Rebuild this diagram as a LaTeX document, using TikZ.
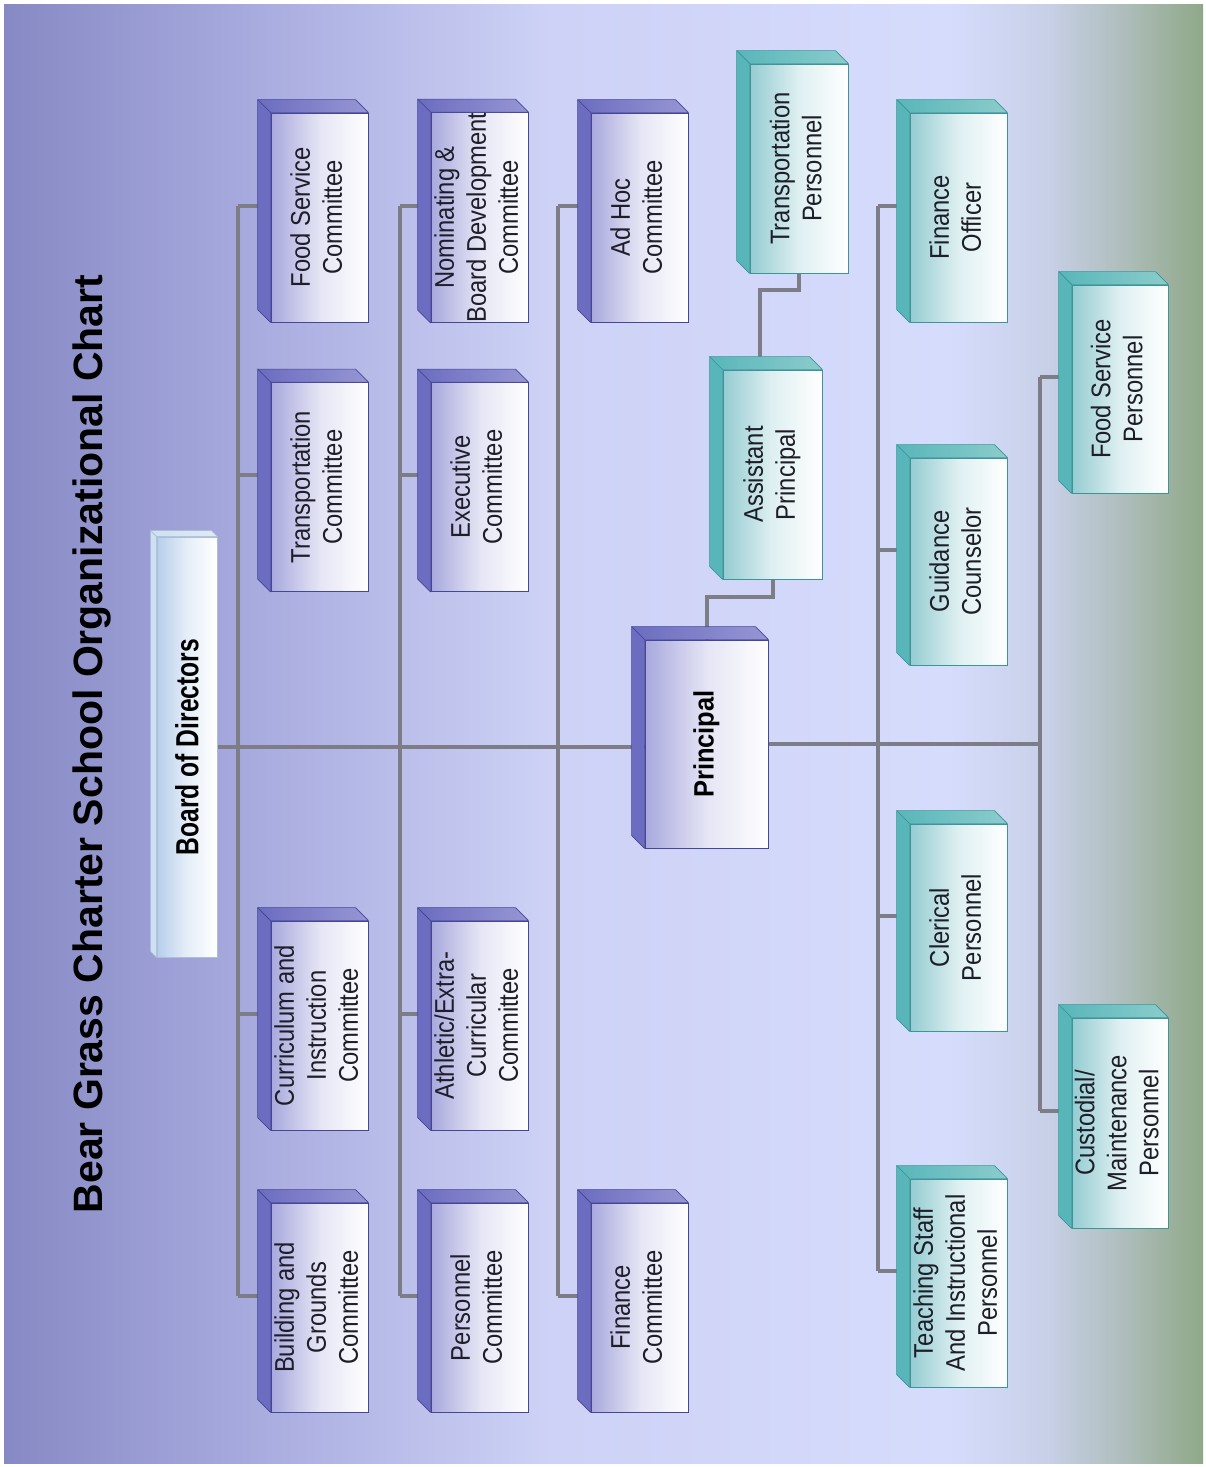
\documentclass[tikz,border=0pt]{standalone}
\usepackage{fontspec}
\setmainfont{Liberation Sans}
\usepackage{graphicx}
\usetikzlibrary{calc}
\definecolor{bgA}{RGB}{135,137,196}
\definecolor{bgB}{RGB}{168,171,222}
\definecolor{bgC}{RGB}{205,210,246}
\definecolor{bgD}{RGB}{214,220,252}
\definecolor{bgE}{RGB}{200,208,232}
\definecolor{bgF}{RGB}{172,188,184}
\definecolor{bgG}{RGB}{143,168,136}
\definecolor{connc}{RGB}{125,125,135}
\definecolor{txtc}{RGB}{30,30,40}
\definecolor{blueL}{RGB}{168,168,222}
\definecolor{blueS}{RGB}{108,108,192}
\definecolor{blueT}{RGB}{150,150,212}
\definecolor{blueD}{RGB}{70,70,150}
\definecolor{tealL}{RGB}{148,204,210}
\definecolor{tealS}{RGB}{88,182,186}
\definecolor{tealT}{RGB}{140,204,204}
\definecolor{tealD}{RGB}{60,150,152}
\definecolor{boardL}{RGB}{182,206,236}
\definecolor{boardS}{RGB}{205,225,242}
\definecolor{boardT}{RGB}{222,234,246}
\definecolor{boardD}{RGB}{175,190,215}
\pgfdeclarehorizontalshading{bgshade}{100bp}{color(0bp)=(bgA); color(25bp)=(bgA); color(35.4bp)=(bgB); color(47.8bp)=(bgC); color(64.4bp)=(bgD); color(68.5bp)=(bgE); color(71.9bp)=(bgF); color(75bp)=(bgG); color(100bp)=(bgG)}
\pgfdeclarelayer{back}
\pgfdeclarelayer{lines}
\pgfsetlayers{back,lines,main}
\newcommand\lbl[1]{\rotatebox{90}{\scalebox{0.88}[1]{\fontsize{27}{32}\selectfont\begin{tabular}{@{}c@{}}#1\end{tabular}}}}
\newcommand\blbl[3]{\rotatebox{90}{\scalebox{#2}[1]{\fontsize{#1}{#1}\selectfont\bfseries #3}}}
\newcommand\extrude[3]{%
 \shade[left color=#2S, right color=#2T, draw=#2D, line width=0.7pt, line join=round] (#1.north west) -- (#1.north east) -- ++(-#3,-#3) -- ($(#1.north west)+(-#3,-#3)$) -- cycle;
 \fill[#2S, draw=#2D, line width=0.7pt, line join=round] (#1.north west) -- (#1.south west) -- ++(-#3,-#3) -- ($(#1.north west)+(-#3,-#3)$) -- cycle;
}
\newcommand\stub[2]{\draw[conn] ($(#1.west)+(-13,-12)$) -- ++(-#2,0);}
\tikzset{
 conn/.style={draw=connc, line width=4pt},
 basebox/.style={rectangle, line width=0.8pt, right color=white, inner sep=0pt, minimum width=97pt, minimum height=209pt, text=txtc},
 bluebox/.style={basebox, draw=blueD, left color=blueL, middle color=blueL!30!white},
 tealbox/.style={basebox, draw=tealD, left color=tealL, middle color=tealL!30!white},
 boardbox/.style={basebox, draw=boardD, left color=boardL, middle color=boardL!35!white, minimum width=60pt, minimum height=420pt, text=black},
}
\begin{document}
\begin{tikzpicture}[x=1pt,y=-1pt]
\useasboundingbox (0,0) rectangle (1206,1467);
\begin{pgfonlayer}{back}
\fill[white] (0,0) rectangle (1206,1467);
\shade[shading=bgshade] (4,4) rectangle (1203,1463);
\end{pgfonlayer}

\node[rotate=90, anchor=base, font=\fontsize{41}{41}\selectfont\bfseries, text=black] (title) at (102,744) {Bear Grass Charter School Organizational Chart};

% board and principal
\node[boardbox] (board) at (187,747) {\blbl{32}{0.77}{Board of Directors}};
\node[bluebox, minimum width=123pt, minimum height=208pt, text=black] (principal) at (706.5,744) {\blbl{28}{0.91}{Principal}};

% committees
\node[bluebox] (fsc) at (319.5,217.5) {\lbl{Food Service\\Committee}};
\node[bluebox] (tc) at (319.5,487) {\lbl{Transportation\\Committee}};
\node[bluebox] (cic) at (319.5,1025.5) {\lbl{Curriculum and\\Instruction\\Committee}};
\node[bluebox] (bgc) at (319.5,1307.5) {\lbl{Building and\\Grounds\\Committee}};
\node[bluebox] (nbc) at (479.5,217.5) {\lbl{Nominating \&\\Board Development\\Committee}};
\node[bluebox] (ec) at (479.5,487) {\lbl{Executive\\Committee}};
\node[bluebox] (aec) at (479.5,1025.5) {\lbl{Athletic/Extra-\\Curricular\\Committee}};
\node[bluebox] (pc) at (479.5,1307.5) {\lbl{Personnel\\Committee}};
\node[bluebox] (ahc) at (639.5,217.5) {\lbl{Ad Hoc\\Committee}};
\node[bluebox] (fc) at (639.5,1307.5) {\lbl{Finance\\Committee}};

% staff
\node[tealbox, minimum width=99pt] (ap) at (772.5,474.5) {\lbl{Assistant\\Principal}};
\node[tealbox, minimum width=98pt] (tp) at (799,168.5) {\lbl{Transportation\\Personnel}};
\node[tealbox, minimum height=209pt] (fo) at (958.5,217.5) {\lbl{Finance\\Officer}};
\node[tealbox, minimum height=207pt] (gc) at (958.5,561.5) {\lbl{Guidance\\Counselor}};
\node[tealbox, minimum height=207pt] (cp) at (958.5,927.5) {\lbl{Clerical\\Personnel}};
\node[tealbox, minimum height=208pt] (ts) at (958.5,1283) {\lbl{Teaching Staff\\And Instructional\\Personnel}};
\node[tealbox, minimum width=96pt, minimum height=208pt] (fsp) at (1120,389) {\lbl{Food Service\\Personnel}};
\node[tealbox, minimum width=96pt, minimum height=210pt] (cmp) at (1120,1123) {\lbl{Custodial/\\Maintenance\\Personnel}};

% 3D faces
\extrude{board}{board}{6}
\extrude{principal}{blue}{13}
\foreach \n in {fsc,tc,cic,bgc,nbc,ec,aec,pc,ahc,fc}{\extrude{\n}{blue}{13}}
\foreach \n in {ap,tp,fo,gc,cp,ts,fsp,cmp}{\extrude{\n}{teal}{13}}

% connectors
\begin{pgfonlayer}{lines}
\coordinate (bus5) at (1040,0);
\draw[conn] (board.east) -- (board.east -| principal.west);
\draw[conn] (principal.east) -- (principal.east -| bus5);
% committee buses
\draw[conn] ($(fsc.west)+(-33,-12)$) -- ($(bgc.west)+(-33,-12)$);
\draw[conn] ($(nbc.west)+(-31,-12)$) -- ($(pc.west)+(-31,-12)$);
\draw[conn] ($(ahc.west)+(-33,-12)$) -- ($(fc.west)+(-33,-12)$);
\stub{fsc}{20}\stub{tc}{20}\stub{cic}{20}\stub{bgc}{20}
\stub{nbc}{18}\stub{ec}{18}\stub{aec}{18}\stub{pc}{18}
\stub{ahc}{20}\stub{fc}{20}
% staff buses
\draw[conn] ($(fo.west)+(-32,-12)$) -- ($(ts.west)+(-32,-12)$);
\stub{fo}{19}\stub{gc}{19}\stub{cp}{19}\stub{ts}{19}
\draw[conn] ($(fsp.west)+(-32,-12)$) -- ($(cmp.west)+(-32,-12)$);
\stub{fsp}{19}\stub{cmp}{19}
% principal to assistant, assistant to transportation personnel
\draw[conn] (principal.north) -- ++(0,-43) -| (ap.south);
\draw[conn] ($(ap.north)+(-13,-12)$) -- ++(0,-68) -| (tp.south);
\end{pgfonlayer}
\end{tikzpicture}
\end{document}
